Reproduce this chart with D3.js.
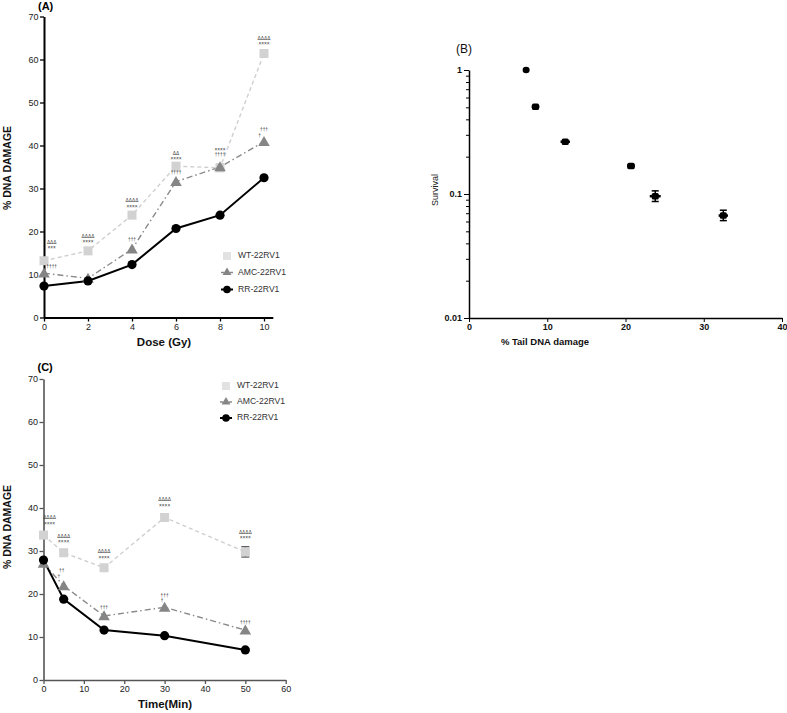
<!DOCTYPE html>
<html><head><meta charset="utf-8">
<script src="https://cdn.jsdelivr.net/npm/d3@7"></script>
<style>body{margin:0;background:#fff}svg{display:block;font-family:"Liberation Sans",Arial,sans-serif}</style>
</head><body><svg id="c" width="787" height="713"></svg>
<script>
// ---------- DATA ----------
const doses=[0,2,4,6,8,10];
const wtDose=[13.2,15.5,23.8,35.2,34.8,61.4];
const amcDose=[10.3,9.1,15.9,31.6,35.0,40.9];
const rrDose=[7.3,8.5,12.3,20.7,23.8,32.5];
const wtDoseErr=[0,0,0,0.8,0.8,0.5];

const times=[0,5,15,30,50];
const wtTime=[33.7,29.6,26.1,37.8,29.8];
const amcTime=[27.1,21.9,14.9,16.9,11.6];
const rrTime=[27.9,18.8,11.6,10.3,7.0];
const wtTimeErr=[0,0,0,0.8,1.2];

const tailDamage=[7.3,8.5,12.3,20.7,23.8,32.5];
const survival=[1.0,0.506,0.264,0.168,0.096,0.067];
const tailErr=[0.2,0.5,0.6,0.5,0.7,0.6];
const survLow=[1.0,0.50,0.26,0.163,0.087,0.061];
const survHigh=[1.0,0.512,0.268,0.173,0.106,0.074];

const seriesNames=["WT-22RV1","AMC-22RV1","RR-22RV1"];
const doseTicks=[0,2,4,6,8,10];
const damageTicks=[0,10,20,30,40,50,60,70];
const timeTicks=[0,10,20,30,40,50,60];
const tailTicks=[0,10,20,30,40];
const survTicks=[0.01,0.1,1];
const survTickLabels=["0.01","0.1","1"];

// significance annotations: [x value, y value of top line, [[text, x shift (data units)], ...]]
const annoDose=[
  [0,17.6,[["ΔΔΔ",0.35],["×××",0.35]]],[0,12.0,[["††††",0.35]]],
  [2,19.0,[["ΔΔΔΔ",0],["××××",0]]],
  [4,27.3,[["ΔΔΔΔ",0],["××××",0]]],[4,18.2,[["†††",0]]],
  [6,38.3,[["ΔΔ",0],["××××",0]]],[6,33.7,[["††††",0]]],
  [8,39.2,[["××××",0],["††††",0]]],
  [10,65.0,[["ΔΔΔΔ",0],["××××",0]]],[10,43.8,[["†††",0],["†",-0.2]]]
];
const annoTime=[
  [0,37.8,[["ΔΔΔΔ",1.5],["××××",1.5]]],
  [5,33.5,[["ΔΔΔΔ",0],["××××",0]]],[5,25.5,[["††",-0.5],["†",-1.2]]],
  [15,29.9,[["ΔΔΔΔ",0],["××××",0]]],[15,17.0,[["†††",0]]],
  [30,42.0,[["ΔΔΔΔ",0],["××××",0]]],[30,19.8,[["†††",0],["†",-0.6]]],
  [50,34.4,[["ΔΔΔΔ",0],["××××",0]]],[50,13.4,[["††††",0]]]
];

// ---------- DRAW ----------
const svg=d3.select("#c");
const styles={
  wt:{stroke:"#cfcfcf",dash:"4,3",fill:"#d2d2d2",w:1.4},
  amc:{stroke:"#8a8a8a",dash:"6,3,1.5,3",fill:"#858585",w:1.4},
  rr:{stroke:"#000",dash:null,fill:"#000",w:2}
};

function marker(g,kind,cx,cy){
  if(kind==="wt"){g.append("rect").attr("x",cx-4.5).attr("y",cy-4.5).attr("width",9).attr("height",9).attr("fill",styles.wt.fill);}
  else if(kind==="amc"){g.append("path").attr("d",d3.symbol(d3.symbolTriangle,58)()).attr("transform",`translate(${cx},${cy+1})`).attr("fill",styles.amc.fill);}
  else {g.append("circle").attr("cx",cx).attr("cy",cy).attr("r",4.6).attr("fill","#000");}
}

function linePanel(o){
  const g=svg.append("g");
  const x=d3.scaleLinear().domain(o.xDomain).range(o.xRange);
  const y=d3.scaleLinear().domain([0,70]).range(o.yRange);
  const ax=g.append("g").attr("transform",`translate(0,${o.yRange[0]})`)
    .call(d3.axisBottom(x).tickValues(o.xTicks).tickSize(4).tickSizeOuter(0).tickPadding(2));
  const ay=g.append("g").attr("transform",`translate(${o.xRange[0]},0)`)
    .call(d3.axisLeft(y).tickValues(damageTicks).tickSize(4).tickSizeOuter(0).tickPadding(1.5));
  [ax,ay].forEach(a=>{
    a.select(".domain").attr("stroke",o.axisColor).attr("stroke-width",o.axisW);
    a.selectAll(".tick line").attr("stroke",o.axisColor).attr("stroke-width",1.3);
    a.selectAll(".tick text").attr("font-size",9).attr("fill","#222").attr("font-family","Liberation Sans,Arial");
  });
  const ser=[["wt",o.wt],["amc",o.amc],["rr",o.rr]];
  const line=d3.line().x(d=>x(d[0])).y(d=>y(d[1]));
  ser.forEach(([k,vals])=>{
    const pts=o.xs.map((v,i)=>[v,vals[i]]);
    g.append("path").attr("d",line(pts)).attr("fill","none").attr("stroke",styles[k].stroke)
      .attr("stroke-width",styles[k].w).attr("stroke-dasharray",styles[k].dash);
  });
  o.xs.forEach((v,i)=>{
    const e=o.wtErr[i]; if(!e) return;
    const cx=x(v);
    g.append("line").attr("x1",cx).attr("x2",cx).attr("y1",y(o.wt[i]-e)).attr("y2",y(o.wt[i]+e)).attr("stroke","#666").attr("stroke-width",1);
    [o.wt[i]-e,o.wt[i]+e].forEach(b=>g.append("line").attr("x1",cx-4).attr("x2",cx+4).attr("y1",y(b)).attr("y2",y(b)).attr("stroke","#555").attr("stroke-width",1.3));
  });
  ser.forEach(([k,vals])=>{
    o.xs.forEach((v,i)=>marker(g,k,x(v),y(vals[i])));
  });
  // annotations: small stacked symbols
  o.anno.forEach(a=>{
    a[2].forEach((ln,j)=>{
      g.append("text").attr("text-anchor","middle").attr("font-size",4.8).attr("fill","#333")
        .attr("x",x(a[0]+ln[1])).attr("y",y(a[1])+1.8+j*5.6).text(ln[0]);
    });
  });
  g.append("text").attr("x",o.xRange[0]-6).attr("y",o.panelY).attr("font-size",11).attr("font-weight","bold")
    .attr("dominant-baseline","middle").text(o.panel);
  g.append("text").attr("transform",`translate(11,${o.ylabY}) rotate(-90)`).attr("text-anchor","middle")
    .attr("font-size",10.5).attr("font-weight","bold").attr("fill","#111").text("% DNA DAMAGE");
  g.append("text").attr("x",o.xTitleX).attr("y",o.xTitleY).attr("text-anchor","middle").attr("dominant-baseline","middle")
    .attr("font-size",11.5).attr("font-weight","bold").attr("fill","#111").text(o.xTitle);
  const lg=g.append("g");
  ser.forEach(([k],i)=>{
    const ly=o.legY[i], lx=o.legX;
    if(k!=="wt") lg.append("line").attr("x1",lx-6).attr("x2",lx+6).attr("y1",ly).attr("y2",ly)
      .attr("stroke",styles[k].stroke).attr("stroke-width",styles[k].w).attr("stroke-dasharray",k==="amc"?"3,1.5":null);
    if(k==="wt") lg.append("rect").attr("x",lx-4).attr("y",ly-4).attr("width",8).attr("height",8).attr("fill","#e2e2e2");
    else if(k==="amc") lg.append("path").attr("d",d3.symbol(d3.symbolTriangle,34)()).attr("transform",`translate(${lx},${ly})`).attr("fill",styles.amc.fill);
    else lg.append("circle").attr("cx",lx).attr("cy",ly).attr("r",3.8).attr("fill","#000");
    lg.append("text").attr("x",lx+11).attr("y",ly).attr("dominant-baseline","middle").attr("font-size",8.6)
      .attr("fill","#333").text(seriesNames[i]);
  });
}

linePanel({panel:"(A)",panelY:7,xs:doses,wt:wtDose,amc:amcDose,rr:rrDose,wtErr:wtDoseErr,
  xDomain:[0,10.4],xRange:[44,272.8],yRange:[317.5,16.5],xTicks:doseTicks,axisColor:"#000",axisW:2,
  anno:annoDose,ylabY:168,xTitle:"Dose (Gy)",xTitleX:164,xTitleY:343,legX:227,legY:[256,272.5,289.5]});

linePanel({panel:"(C)",panelY:368,xs:times,wt:wtTime,amc:amcTime,rr:rrTime,wtErr:wtTimeErr,
  xDomain:[0,60],xRange:[43.5,285.7],yRange:[680,379],xTicks:timeTicks,axisColor:"#555",axisW:1.6,
  anno:annoTime,ylabY:527,xTitle:"Time(Min)",xTitleX:165,xTitleY:705,legX:226,legY:[386,402,418]});

// ---------- PANEL B ----------
(function(){
  const g=svg.append("g");
  const x=d3.scaleLinear().domain([0,40]).range([469,782]);
  const y=d3.scaleLog().domain([0.01,1]).range([318,70]);
  const ax=g.append("g").attr("transform","translate(0,318)")
    .call(d3.axisBottom(x).tickValues(tailTicks).tickSize(4).tickSizeOuter(0).tickPadding(2));
  const minor=[];
  [0.01,0.1].forEach(b=>{for(let k=2;k<=9;k++) minor.push(b*k);});
  const ay=g.append("g").attr("transform","translate(469,0)")
    .call(d3.axisLeft(y).tickValues(survTicks).tickFormat((d,i)=>survTickLabels[i]).tickSize(5).tickSizeOuter(0).tickPadding(2));
  g.append("g").attr("transform","translate(469,0)")
    .call(d3.axisLeft(y).tickValues(minor).tickFormat("").tickSize(3).tickSizeOuter(0))
    .call(s=>s.select(".domain").remove());
  [ax,ay].forEach(a=>{
    a.select(".domain").attr("stroke","#000").attr("stroke-width",1.5);
    a.selectAll(".tick text").attr("font-size",9).attr("font-weight","bold").attr("fill","#111");
  });
  g.selectAll(".tick line").attr("stroke","#000").attr("stroke-width",1);
  tailDamage.forEach((v,i)=>{
    const cx=x(v), cy=y(survival[i]);
    g.append("line").attr("x1",x(v-tailErr[i])).attr("x2",x(v+tailErr[i])).attr("y1",cy).attr("y2",cy).attr("stroke","#000").attr("stroke-width",2.5);
    if(survHigh[i]>survLow[i]){
      g.append("line").attr("x1",cx).attr("x2",cx).attr("y1",y(survLow[i])).attr("y2",y(survHigh[i])).attr("stroke","#000").attr("stroke-width",1.5);
      [survLow[i],survHigh[i]].forEach(b=>g.append("line").attr("x1",cx-3.5).attr("x2",cx+3.5).attr("y1",y(b)).attr("y2",y(b)).attr("stroke","#000").attr("stroke-width",1.5));
    }
    g.append("rect").attr("x",cx-3.5).attr("y",cy-3.3).attr("width",7).attr("height",6.6).attr("rx",i===0?3.5:1.5).attr("fill","#000");
  });
  g.append("text").attr("x",456).attr("y",50).attr("dominant-baseline","middle").attr("font-size",12).attr("fill","#111").text("(B)");
  g.append("text").attr("transform","translate(438,190) rotate(-90)").attr("text-anchor","middle")
    .attr("font-size",9).attr("fill","#222").text("Survival");
  g.append("text").attr("x",545).attr("y",342).attr("text-anchor","middle").attr("dominant-baseline","middle")
    .attr("font-size",9.5).attr("font-weight","bold").attr("fill","#111").text("% Tail DNA damage");
})();
</script></body></html>
